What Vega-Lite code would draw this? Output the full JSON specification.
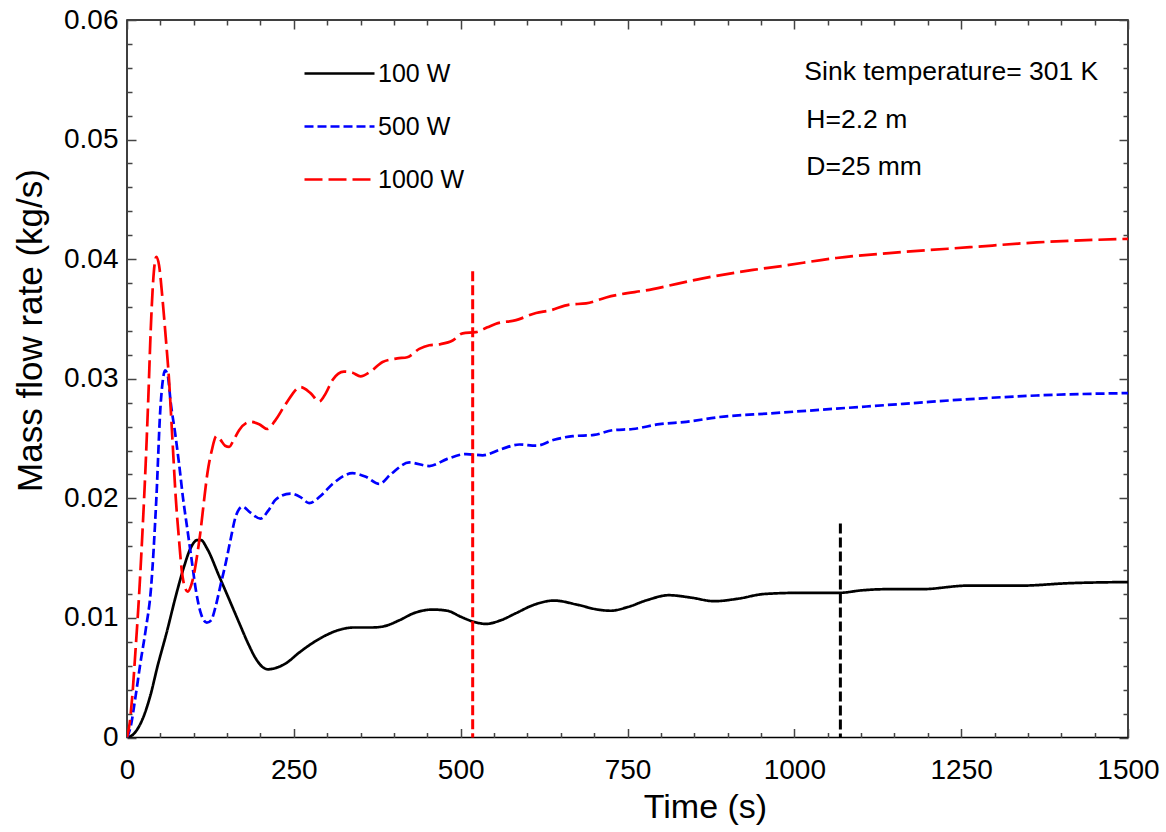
{
  "$schema": "https://vega.github.io/schema/vega-lite/v6.json",
  "width": 1001,
  "height": 717.5,
  "autosize": "none",
  "padding": {"left": 127, "top": 20, "right": 38, "bottom": 94.5},
  "background": "white",
  "config": {
    "font": "Liberation Sans",
    "view": {"stroke": "#000000", "strokeWidth": 1.5},
    "axis": {"grid": false, "domain": false, "labelColor": "#000000", "titleColor": "#000000", "tickColor": "#444444", "tickWidth": 1.5, "titleFontWeight": "normal", "labelFlush": false, "labelOverlap": false, "labelBound": false}
  },
  "datasets": {
    "curves": [
      {"series": "100 W", "t": 0, "m": 0},
      {"series": "100 W", "t": 10, "m": 0.0003},
      {"series": "100 W", "t": 23, "m": 0.0015},
      {"series": "100 W", "t": 35, "m": 0.0035},
      {"series": "100 W", "t": 45.5, "m": 0.0059},
      {"series": "100 W", "t": 60, "m": 0.0089},
      {"series": "100 W", "t": 73, "m": 0.0118},
      {"series": "100 W", "t": 85, "m": 0.0142},
      {"series": "100 W", "t": 95, "m": 0.0158},
      {"series": "100 W", "t": 105, "m": 0.0165},
      {"series": "100 W", "t": 111, "m": 0.0165},
      {"series": "100 W", "t": 120, "m": 0.0158},
      {"series": "100 W", "t": 138, "m": 0.0135},
      {"series": "100 W", "t": 155, "m": 0.0113},
      {"series": "100 W", "t": 168, "m": 0.0096},
      {"series": "100 W", "t": 182, "m": 0.0078},
      {"series": "100 W", "t": 193, "m": 0.0066},
      {"series": "100 W", "t": 203, "m": 0.0059},
      {"series": "100 W", "t": 211, "m": 0.0057},
      {"series": "100 W", "t": 222, "m": 0.0058},
      {"series": "100 W", "t": 238, "m": 0.0062},
      {"series": "100 W", "t": 258, "m": 0.0071},
      {"series": "100 W", "t": 278, "m": 0.0079},
      {"series": "100 W", "t": 300, "m": 0.0086},
      {"series": "100 W", "t": 318, "m": 0.009},
      {"series": "100 W", "t": 340, "m": 0.0092},
      {"series": "100 W", "t": 368, "m": 0.0092},
      {"series": "100 W", "t": 385, "m": 0.0093},
      {"series": "100 W", "t": 408, "m": 0.0098},
      {"series": "100 W", "t": 430, "m": 0.0104},
      {"series": "100 W", "t": 458, "m": 0.0107},
      {"series": "100 W", "t": 480, "m": 0.0106},
      {"series": "100 W", "t": 500, "m": 0.0101},
      {"series": "100 W", "t": 518, "m": 0.0097},
      {"series": "100 W", "t": 538, "m": 0.0095},
      {"series": "100 W", "t": 560, "m": 0.0098},
      {"series": "100 W", "t": 583, "m": 0.0104},
      {"series": "100 W", "t": 610, "m": 0.0111},
      {"series": "100 W", "t": 640, "m": 0.01145},
      {"series": "100 W", "t": 675, "m": 0.0111},
      {"series": "100 W", "t": 705, "m": 0.0107},
      {"series": "100 W", "t": 725, "m": 0.0106},
      {"series": "100 W", "t": 750, "m": 0.0109},
      {"series": "100 W", "t": 780, "m": 0.0115},
      {"series": "100 W", "t": 812, "m": 0.0119},
      {"series": "100 W", "t": 845, "m": 0.0117},
      {"series": "100 W", "t": 880, "m": 0.0114},
      {"series": "100 W", "t": 915, "m": 0.0116},
      {"series": "100 W", "t": 955, "m": 0.012},
      {"series": "100 W", "t": 1010, "m": 0.0121},
      {"series": "100 W", "t": 1068, "m": 0.0121},
      {"series": "100 W", "t": 1100, "m": 0.0123},
      {"series": "100 W", "t": 1135, "m": 0.0124},
      {"series": "100 W", "t": 1190, "m": 0.0124},
      {"series": "100 W", "t": 1260, "m": 0.0127},
      {"series": "100 W", "t": 1340, "m": 0.0127},
      {"series": "100 W", "t": 1410, "m": 0.0129},
      {"series": "100 W", "t": 1500, "m": 0.013},
      {"series": "500 W", "t": 0, "m": 0},
      {"series": "500 W", "t": 5, "m": 0.0008},
      {"series": "500 W", "t": 13, "m": 0.0035},
      {"series": "500 W", "t": 20, "m": 0.0062},
      {"series": "500 W", "t": 28, "m": 0.009},
      {"series": "500 W", "t": 36, "m": 0.0125},
      {"series": "500 W", "t": 44, "m": 0.02},
      {"series": "500 W", "t": 50, "m": 0.0275},
      {"series": "500 W", "t": 54, "m": 0.03},
      {"series": "500 W", "t": 57, "m": 0.0307},
      {"series": "500 W", "t": 61, "m": 0.0303},
      {"series": "500 W", "t": 65.5, "m": 0.028},
      {"series": "500 W", "t": 72, "m": 0.0255},
      {"series": "500 W", "t": 78, "m": 0.0229},
      {"series": "500 W", "t": 84, "m": 0.02},
      {"series": "500 W", "t": 90.5, "m": 0.0174},
      {"series": "500 W", "t": 97, "m": 0.0148},
      {"series": "500 W", "t": 103, "m": 0.0124},
      {"series": "500 W", "t": 110, "m": 0.0105},
      {"series": "500 W", "t": 119.5, "m": 0.0096},
      {"series": "500 W", "t": 126, "m": 0.0098},
      {"series": "500 W", "t": 133, "m": 0.011},
      {"series": "500 W", "t": 140, "m": 0.0127},
      {"series": "500 W", "t": 148, "m": 0.0146},
      {"series": "500 W", "t": 155, "m": 0.0165},
      {"series": "500 W", "t": 163, "m": 0.0185},
      {"series": "500 W", "t": 173, "m": 0.0193},
      {"series": "500 W", "t": 185, "m": 0.0188},
      {"series": "500 W", "t": 200, "m": 0.0183},
      {"series": "500 W", "t": 212, "m": 0.019},
      {"series": "500 W", "t": 223, "m": 0.0199},
      {"series": "500 W", "t": 245, "m": 0.0204},
      {"series": "500 W", "t": 260, "m": 0.0201},
      {"series": "500 W", "t": 273, "m": 0.0196},
      {"series": "500 W", "t": 290, "m": 0.0202},
      {"series": "500 W", "t": 308, "m": 0.0212},
      {"series": "500 W", "t": 338, "m": 0.0221},
      {"series": "500 W", "t": 358, "m": 0.0218},
      {"series": "500 W", "t": 378, "m": 0.0212},
      {"series": "500 W", "t": 395, "m": 0.022},
      {"series": "500 W", "t": 423, "m": 0.023},
      {"series": "500 W", "t": 453, "m": 0.0227},
      {"series": "500 W", "t": 480, "m": 0.0233},
      {"series": "500 W", "t": 508, "m": 0.0237},
      {"series": "500 W", "t": 533, "m": 0.0236},
      {"series": "500 W", "t": 560, "m": 0.0241},
      {"series": "500 W", "t": 588, "m": 0.0245},
      {"series": "500 W", "t": 613, "m": 0.0244},
      {"series": "500 W", "t": 640, "m": 0.0249},
      {"series": "500 W", "t": 668, "m": 0.0252},
      {"series": "500 W", "t": 700, "m": 0.0253},
      {"series": "500 W", "t": 728, "m": 0.0257},
      {"series": "500 W", "t": 758, "m": 0.0258},
      {"series": "500 W", "t": 798, "m": 0.0262},
      {"series": "500 W", "t": 838, "m": 0.0264},
      {"series": "500 W", "t": 888, "m": 0.0268},
      {"series": "500 W", "t": 963, "m": 0.0271},
      {"series": "500 W", "t": 1063, "m": 0.0275},
      {"series": "500 W", "t": 1163, "m": 0.0279},
      {"series": "500 W", "t": 1263, "m": 0.0283},
      {"series": "500 W", "t": 1363, "m": 0.0286},
      {"series": "500 W", "t": 1500, "m": 0.0288},
      {"series": "1000 W", "t": 0, "m": 0},
      {"series": "1000 W", "t": 4, "m": 0.0012},
      {"series": "1000 W", "t": 8, "m": 0.0035},
      {"series": "1000 W", "t": 13, "m": 0.0075},
      {"series": "1000 W", "t": 18, "m": 0.0118},
      {"series": "1000 W", "t": 23, "m": 0.017},
      {"series": "1000 W", "t": 28, "m": 0.0229},
      {"series": "1000 W", "t": 32, "m": 0.0285},
      {"series": "1000 W", "t": 35.5, "m": 0.034},
      {"series": "1000 W", "t": 39, "m": 0.038},
      {"series": "1000 W", "t": 44, "m": 0.0402},
      {"series": "1000 W", "t": 48, "m": 0.0395},
      {"series": "1000 W", "t": 53, "m": 0.0368},
      {"series": "1000 W", "t": 58, "m": 0.0335},
      {"series": "1000 W", "t": 63, "m": 0.0299},
      {"series": "1000 W", "t": 68, "m": 0.025},
      {"series": "1000 W", "t": 73, "m": 0.0201},
      {"series": "1000 W", "t": 78, "m": 0.0165},
      {"series": "1000 W", "t": 82, "m": 0.014},
      {"series": "1000 W", "t": 87, "m": 0.0125},
      {"series": "1000 W", "t": 91, "m": 0.0122},
      {"series": "1000 W", "t": 96, "m": 0.0127},
      {"series": "1000 W", "t": 100.5, "m": 0.0137},
      {"series": "1000 W", "t": 105, "m": 0.0152},
      {"series": "1000 W", "t": 110.5, "m": 0.0174},
      {"series": "1000 W", "t": 115, "m": 0.0196},
      {"series": "1000 W", "t": 120.5, "m": 0.0221},
      {"series": "1000 W", "t": 127, "m": 0.024},
      {"series": "1000 W", "t": 134, "m": 0.0252},
      {"series": "1000 W", "t": 140, "m": 0.0249},
      {"series": "1000 W", "t": 147, "m": 0.0244},
      {"series": "1000 W", "t": 153, "m": 0.0243},
      {"series": "1000 W", "t": 160, "m": 0.0249},
      {"series": "1000 W", "t": 168, "m": 0.0257},
      {"series": "1000 W", "t": 185, "m": 0.0264},
      {"series": "1000 W", "t": 198, "m": 0.0262},
      {"series": "1000 W", "t": 210, "m": 0.0258},
      {"series": "1000 W", "t": 222, "m": 0.0265},
      {"series": "1000 W", "t": 238, "m": 0.0279},
      {"series": "1000 W", "t": 260, "m": 0.0293},
      {"series": "1000 W", "t": 275, "m": 0.0288},
      {"series": "1000 W", "t": 288, "m": 0.0281},
      {"series": "1000 W", "t": 298, "m": 0.0288},
      {"series": "1000 W", "t": 308, "m": 0.0299},
      {"series": "1000 W", "t": 325, "m": 0.0306},
      {"series": "1000 W", "t": 338, "m": 0.0305},
      {"series": "1000 W", "t": 350, "m": 0.0302},
      {"series": "1000 W", "t": 365, "m": 0.0306},
      {"series": "1000 W", "t": 383, "m": 0.0314},
      {"series": "1000 W", "t": 405, "m": 0.0317},
      {"series": "1000 W", "t": 420, "m": 0.0318},
      {"series": "1000 W", "t": 438, "m": 0.0325},
      {"series": "1000 W", "t": 453, "m": 0.0328},
      {"series": "1000 W", "t": 470, "m": 0.0329},
      {"series": "1000 W", "t": 488, "m": 0.0332},
      {"series": "1000 W", "t": 503, "m": 0.0338},
      {"series": "1000 W", "t": 523, "m": 0.0339},
      {"series": "1000 W", "t": 540, "m": 0.0343},
      {"series": "1000 W", "t": 553, "m": 0.0346},
      {"series": "1000 W", "t": 583, "m": 0.0349},
      {"series": "1000 W", "t": 613, "m": 0.0355},
      {"series": "1000 W", "t": 633, "m": 0.0357},
      {"series": "1000 W", "t": 663, "m": 0.0362},
      {"series": "1000 W", "t": 688, "m": 0.0363},
      {"series": "1000 W", "t": 718, "m": 0.0368},
      {"series": "1000 W", "t": 788, "m": 0.0375},
      {"series": "1000 W", "t": 863, "m": 0.0384},
      {"series": "1000 W", "t": 938, "m": 0.0391},
      {"series": "1000 W", "t": 978, "m": 0.0394},
      {"series": "1000 W", "t": 1063, "m": 0.0401},
      {"series": "1000 W", "t": 1163, "m": 0.0406},
      {"series": "1000 W", "t": 1263, "m": 0.041},
      {"series": "1000 W", "t": 1363, "m": 0.0414},
      {"series": "1000 W", "t": 1500, "m": 0.0417}
    ],
    "rules": [
      {"series": "1000 W", "t": 518, "top": 0.039},
      {"series": "100 W", "t": 1069, "top": 0.0179}
    ],
    "notes": [
      {"t": 1015, "m": 0.0550, "label": "Sink temperature= 301 K"},
      {"t": 1018, "m": 0.0510, "label": "H=2.2 m"},
      {"t": 1018, "m": 0.0470, "label": "D=25 mm"}
    ]
  },
  "resolve": {"axis": {"x": "independent", "y": "independent"}},
  "layer": [
    {
      "data": {"name": "curves"},
      "mark": {"type": "line", "interpolate": "monotone", "strokeWidth": 2.7, "clip": true},
      "encoding": {
        "x": {
          "field": "t", "type": "quantitative",
          "scale": {"domain": [0, 1500], "nice": false, "zero": false},
          "axis": {
            "orient": "bottom",
            "values": [0,50,100,150,200,250,300,350,400,450,500,550,600,650,700,750,800,850,900,950,1000,1050,1100,1150,1200,1250,1300,1350,1400,1450,1500],
            "tickSize": {"condition": {"test": "datum.value % 250 === 0", "value": -9}, "value": -5},
            "labelExpr": "datum.value % 250 === 0 ? format(datum.value, 'd') : ''",
            "labelFontSize": 28,
            "labelPadding": 28,
            "title": "Time (s)",
            "titleFontSize": 34,
            "titleX": 578,
            "titleY": 80,
            "titleAlign": "center",
            "titleBaseline": "alphabetic"
          }
        },
        "y": {
          "field": "m", "type": "quantitative",
          "scale": {"domain": [0, 0.06], "nice": false},
          "axis": {
            "orient": "left",
            "values": [0,0.002,0.004,0.006,0.008,0.01,0.012,0.014,0.016,0.018,0.02,0.022,0.024,0.026,0.028,0.03,0.032,0.034,0.036,0.038,0.04,0.042,0.044,0.046,0.048,0.05,0.052,0.054,0.056,0.058,0.06],
            "tickSize": {"condition": {"test": "abs(datum.value*100 - round(datum.value*100)) < 0.001", "value": -9}, "value": -5},
            "labelExpr": "abs(datum.value*100 - round(datum.value*100)) < 0.001 ? (datum.value == 0 ? '0' : format(datum.value, '.2f')) : ''",
            "labelFontSize": 28,
            "labelPadding": 18,
            "title": "Mass flow rate (kg/s)",
            "titleFontSize": 35,
            "titleAngle": 270,
            "titleX": -97,
            "titleY": 310,
            "titleAlign": "center",
            "titleBaseline": "middle"
          }
        },
        "color": {
          "field": "series", "type": "nominal",
          "scale": {"domain": ["100 W", "500 W", "1000 W"], "range": ["#000000", "#0000ff", "#ff0000"]},
          "legend": {
            "orient": "none", "legendX": 176, "legendY": 17, "title": null,
            "symbolType": "stroke", "symbolSize": 4900, "symbolStrokeWidth": 2.7,
            "labelFontSize": 25, "labelOffset": 2, "rowPadding": 3, "padding": 0,
            "labelColor": "#000000", "labelLimit": 300
          }
        },
        "strokeDash": {
          "field": "series", "type": "nominal",
          "scale": {"domain": ["100 W", "500 W", "1000 W"], "range": [[1, 0], [9, 4], [18, 6]]}
        }
      }
    },
    {
      "data": {"name": "rules"},
      "mark": {"type": "rule", "strokeDash": [10, 4], "strokeWidth": 3},
      "encoding": {
        "x": {
          "field": "t", "type": "quantitative",
          "axis": {
            "orient": "top",
            "values": [0,50,100,150,200,250,300,350,400,450,500,550,600,650,700,750,800,850,900,950,1000,1050,1100,1150,1200,1250,1300,1350,1400,1450,1500],
            "tickSize": {"condition": {"test": "datum.value % 250 === 0", "value": -9}, "value": -5},
            "labels": false,
            "title": null
          }
        },
        "y": {
          "field": "top", "type": "quantitative",
          "axis": {
            "orient": "right",
            "values": [0,0.002,0.004,0.006,0.008,0.01,0.012,0.014,0.016,0.018,0.02,0.022,0.024,0.026,0.028,0.03,0.032,0.034,0.036,0.038,0.04,0.042,0.044,0.046,0.048,0.05,0.052,0.054,0.056,0.058,0.06],
            "tickSize": {"condition": {"test": "abs(datum.value*100 - round(datum.value*100)) < 0.001", "value": -9}, "value": -5},
            "labels": false,
            "title": null
          }
        },
        "y2": {"datum": 0},
        "color": {"field": "series", "type": "nominal", "legend": null}
      }
    },
    {
      "data": {"name": "notes"},
      "mark": {"type": "text", "align": "left", "baseline": "alphabetic", "fontSize": 26.5, "color": "#000000"},
      "encoding": {
        "x": {"field": "t", "type": "quantitative", "axis": null},
        "y": {"field": "m", "type": "quantitative", "axis": null},
        "text": {"field": "label"}
      }
    }
  ]
}
